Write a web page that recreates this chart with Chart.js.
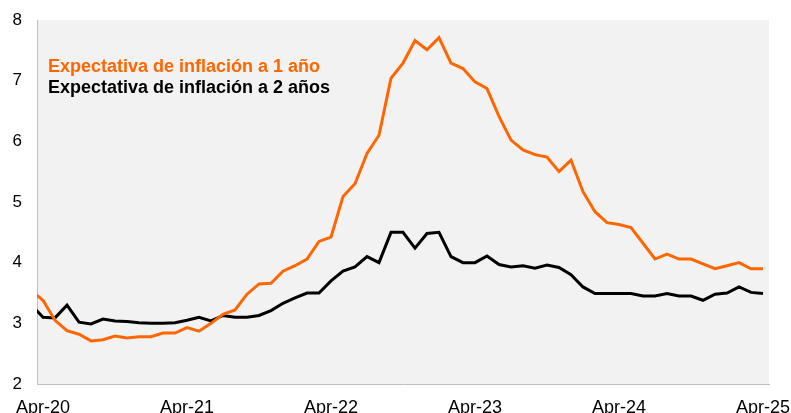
<!DOCTYPE html>
<html>
<head>
<meta charset="utf-8">
<script src="https://cdn.jsdelivr.net/npm/chart.js@4/dist/chart.umd.min.js"></script>
<style>
  html, body { margin: 0; padding: 0; background: #ffffff; }
  #wrap { width: 791px; height: 413px; }
</style>
</head>
<body>
<div id="wrap"><canvas id="c" width="791" height="413"></canvas></div>
<script>
// Months: first entry (Mar-20) lies just left of the visible window
const months = [
  'Mar-20',
  'Apr-20','May-20','Jun-20','Jul-20','Aug-20','Sep-20','Oct-20','Nov-20','Dec-20','Jan-21','Feb-21','Mar-21',
  'Apr-21','May-21','Jun-21','Jul-21','Aug-21','Sep-21','Oct-21','Nov-21','Dec-21','Jan-22','Feb-22','Mar-22',
  'Apr-22','May-22','Jun-22','Jul-22','Aug-22','Sep-22','Oct-22','Nov-22','Dec-22','Jan-23','Feb-23','Mar-23',
  'Apr-23','May-23','Jun-23','Jul-23','Aug-23','Sep-23','Oct-23','Nov-23','Dec-23','Jan-24','Feb-24','Mar-24',
  'Apr-24','May-24','Jun-24','Jul-24','Aug-24','Sep-24','Oct-24','Nov-24','Dec-24','Jan-25','Feb-25','Mar-25',
  'Apr-25'
];
const tickLabels = ['Apr-20','Apr-21','Apr-22','Apr-23','Apr-24','Apr-25'];
const yTicks = [2, 3, 4, 5, 6, 7, 8];

const labelOneYear = 'Expectativa de inflación a 1 año';
const labelTwoYears = 'Expectativa de inflación a 2 años';

const oneYear = [
  3.54,
  3.38, 3.05, 2.88, 2.82, 2.71, 2.73, 2.79, 2.76, 2.78, 2.78, 2.84, 2.84,
  2.93, 2.87, 3.00, 3.15, 3.22, 3.48, 3.65, 3.66, 3.86, 3.95, 4.06, 4.35,
  4.42, 5.09, 5.30, 5.80, 6.10, 7.04, 7.29, 7.66, 7.51, 7.71, 7.29, 7.20,
  6.98, 6.87, 6.41, 6.02, 5.86, 5.78, 5.74, 5.50, 5.69, 5.17, 4.84, 4.66,
  4.63, 4.58, 4.32, 4.06, 4.14, 4.06, 4.06, 3.98, 3.90, 3.95, 4.00, 3.90,
  3.90
];
const twoYears = [
  3.31,
  3.10, 3.09, 3.30, 3.02, 2.99, 3.07, 3.04, 3.03, 3.01, 3.00, 3.00, 3.01,
  3.05, 3.10, 3.04, 3.13, 3.10, 3.10, 3.13, 3.21, 3.33, 3.42, 3.50, 3.50,
  3.70, 3.86, 3.93, 4.10, 4.00, 4.50, 4.50, 4.24, 4.48, 4.50, 4.10, 4.00,
  4.00, 4.11, 3.97, 3.93, 3.95, 3.91, 3.96, 3.92, 3.80, 3.60, 3.49, 3.49,
  3.49, 3.49, 3.45, 3.45, 3.49, 3.45, 3.45, 3.38, 3.48, 3.50, 3.60, 3.51,
  3.49
];

const ORANGE = '#FF6600';
const BLACK = '#000000';

// index of Apr-20 is 1 -> x = 0
const toPoints = arr => arr.map((v, i) => ({ x: i - 1, y: v }));
const xOf = lbl => months.indexOf(lbl) - 1;

const plotBg = {
  id: 'plotBg',
  beforeDraw(chart) {
    const { ctx, chartArea: a } = chart;
    ctx.save();
    ctx.fillStyle = '#F2F2F2';
    ctx.fillRect(a.left, a.top, a.right - a.left, a.bottom - a.top);
    ctx.restore();
  }
};

const textLegend = {
  id: 'textLegend',
  afterDraw(chart) {
    const { ctx } = chart;
    ctx.save();
    ctx.font = 'bold 18px "Liberation Sans", Arial, sans-serif';
    ctx.textBaseline = 'middle';
    ctx.textAlign = 'left';
    ctx.fillStyle = ORANGE;
    ctx.fillText(labelOneYear, 48, 67);
    ctx.fillStyle = BLACK;
    ctx.fillText(labelTwoYears, 48, 88);
    ctx.restore();
  }
};

new Chart(document.getElementById('c'), {
  type: 'line',
  data: {
    datasets: [
      {
        label: labelOneYear,
        data: toPoints(oneYear),
        borderColor: ORANGE,
        backgroundColor: ORANGE,
        borderWidth: 3,
        pointRadius: 0,
        tension: 0,
        borderJoinStyle: 'miter'
      },
      {
        label: labelTwoYears,
        data: toPoints(twoYears),
        borderColor: BLACK,
        backgroundColor: BLACK,
        borderWidth: 3,
        pointRadius: 0,
        tension: 0,
        borderJoinStyle: 'miter'
      }
    ]
  },
  options: {
    responsive: false,
    animation: false,
    devicePixelRatio: 1,
    layout: { padding: { left: 0, right: 22, top: 20, bottom: 0 } },
    plugins: {
      legend: { display: false },
      tooltip: { enabled: false }
    },
    scales: {
      x: {
        type: 'linear',
        min: -0.5,
        max: 60.5,
        grid: { display: false, drawTicks: false },
        border: { display: true, color: '#C0C0C0', width: 1 },
        afterBuildTicks(scale) {
          scale.ticks = tickLabels.map(l => ({ value: xOf(l) }));
        },
        afterFit(scale) {
          scale.height = 29;
          scale.paddingLeft = 0;
          scale.paddingRight = 0;
        },
        ticks: {
          autoSkip: false,
          maxRotation: 0,
          padding: 13,
          color: '#000000',
          font: { family: '"Liberation Sans", Arial, sans-serif', size: 18 },
          callback: v => months[v + 1]
        }
      },
      y: {
        min: 2,
        max: 8,
        grid: { display: false, drawTicks: false },
        border: { display: true, color: '#C0C0C0', width: 1 },
        afterBuildTicks(scale) {
          scale.ticks = yTicks.map(v => ({ value: v }));
        },
        afterFit(scale) {
          scale.width = 37;
          scale.paddingTop = 0;
          scale.paddingBottom = 0;
        },
        ticks: {
          padding: 15,
          color: '#000000',
          font: { family: '"Liberation Sans", Arial, sans-serif', size: 17 },
          callback: v => String(v)
        }
      }
    }
  },
  plugins: [plotBg, textLegend]
});
</script>
</body>
</html>
